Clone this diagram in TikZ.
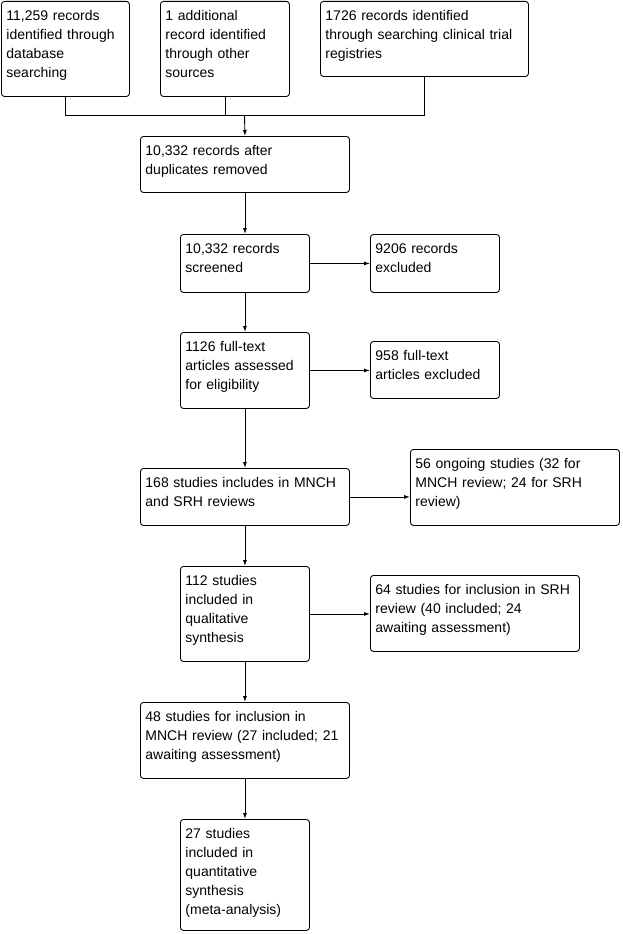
\documentclass[tikz,border=0pt]{standalone}
\usepackage{fontspec}
\setmainfont{Liberation Sans}
\usetikzlibrary{arrows.meta}

\begin{document}
\begin{tikzpicture}[x=1pt, y=-1pt, >={Latex[length=6pt,width=4pt]},
  font=\fontsize{14}{19}\selectfont,
  box/.style 2 args={draw, line width=0.9pt, rounded corners=3pt,
    anchor=north west, align=left, inner xsep=5pt, inner ysep=5pt,
    text width=#1pt-10pt, text height=14pt, text depth=#2pt-24pt},
  arr/.style={->, line width=0.9pt},
  link/.style={line width=0.9pt},
]
\path[use as bounding box, fill=white] (0,0) rectangle (622,934);

%% Identification
\node[box={128}{95}] (db) at (1,1) {11,259 records\\identified through\\database\\searching};
\node[box={129}{95}] (oth) at (160,1) {1 additional\\record identified\\through other\\sources};
\node[box={208}{75}] (reg) at (320,1) {1726 records identified\\through searching clinical trial\\registries};

%% Screening
\node[box={209}{56}] (dup) at (140,136) {10,332 records after\\duplicates removed};
\node[box={129}{58}] (scr) at (180,234) {10,332 records\\screened};
\node[box={129}{58}] (exc) at (370,234) {9206 records\\excluded};

%% Eligibility
\node[box={129}{76}] (full) at (180,332) {1126 full-text\\articles assessed\\for eligibility};
\node[box={129}{57}] (fexc) at (370,341) {958 full-text\\articles excluded};

%% Included
\node[box={209}{57}] (inc) at (140,468) {168 studies includes in MNCH\\and SRH reviews};
\node[box={209}{76}] (ong) at (410,449) {56 ongoing studies (32 for\\MNCH review; 24 for SRH\\review)};
\node[box={129}{95}] (qual) at (180,566) {112 studies\\included in\\qualitative\\synthesis};
\node[box={209}{76}] (srh) at (370,575) {64 studies for inclusion in SRH\\review (40 included; 24\\awaiting assessment)};
\node[box={209}{76}] (mnch) at (140,702) {48 studies for inclusion in\\MNCH review (27 included; 21\\awaiting assessment)};
\node[box={129}{111}] (quant) at (180,819) {27 studies\\included in\\quantitative\\synthesis\\(meta-analysis)};

%% Merge of the three sources
\coordinate (mrg) at (244.5,115);
\draw[link] (db.south) |- (reg.south |- mrg) -- (reg.south);
\draw[link] (oth.south) -- (oth.south |- mrg);
\draw[arr] (mrg) -- (dup.north);

%% Main flow
\draw[arr] (dup.south) -- (scr.north);
\draw[arr] (scr.south) -- (full.north);
\draw[arr] (full.south) -- (inc.north);
\draw[arr] (inc.south) -- (qual.north);
\draw[arr] (qual.south) -- (mnch.north);
\draw[arr] (mnch.south) -- (quant.north);

%% Side branches
\draw[arr] (scr.east) -- (scr.east -| exc.west);
\draw[arr] (full.east) -- (full.east -| fexc.west);
\draw[arr] (inc.east) -- (inc.east -| ong.west);
\draw[arr] (qual.east) -- (qual.east -| srh.west);

\end{tikzpicture}
\end{document}
